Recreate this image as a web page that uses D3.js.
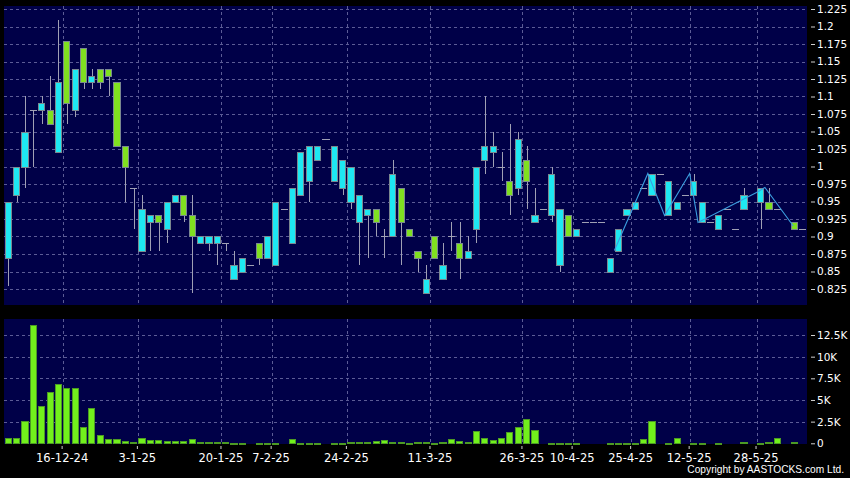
<!DOCTYPE html>
<html><head><meta charset="utf-8">
<script src="https://cdn.jsdelivr.net/npm/d3@7"></script>
<style>html,body{margin:0;padding:0;background:#000;} svg{display:block}</style>
</head><body>
<svg id="c" width="850" height="478"></svg>
<script>
// ---- data ----
const tickIndex  = [7, 16, 26, 32, 41, 51, 62, 68, 75, 82, 90];
const tickLabels = ["16-12-24","3-1-25","20-1-25","7-2-25","24-2-25","11-3-25","26-3-25","10-4-25","25-4-25","12-5-25","28-5-25"];

const open  = [0.87,0.96,1.00,1.08,1.08,1.08,1.02,1.18,1.08,1.17,1.12,1.14,1.14,1.12,1.03,0.97,
               0.88,0.92,0.93,0.91,0.95,0.96,0.93,0.89,0.89,0.89,0.89,0.84,0.85,0.86,0.89,0.87,
               0.86,0.94,0.89,0.96,0.98,1.01,1.04,0.98,0.97,0.95,0.92,0.93,0.94,0.90,0.90,0.97,
               0.91,0.88,0.82,0.90,0.84,0.90,0.89,0.87,0.91,1.01,1.02,1.00,0.98,0.97,1.01,0.92,
               0.94,0.93,0.86,0.93,0.90,0.92,0.92,0.92,0.85,0.88,0.93,0.94,0.97,0.96,0.99,0.93,
               0.94,0.96,0.96,0.92,0.92,0.91,0.94,0.91,0.94,null,0.95,0.95,0.94,null,0.92,0.91];
const high  = [0.95,1.00,1.10,1.08,1.10,1.13,1.21,1.18,1.14,1.17,1.14,1.14,1.14,1.12,1.03,0.97,
               0.96,0.93,0.93,0.95,0.96,0.96,0.96,0.90,0.90,0.90,0.89,0.88,0.87,0.86,0.89,0.90,
               0.95,0.94,0.97,1.02,1.03,1.03,1.04,1.03,1.01,1.00,0.96,0.94,0.94,0.91,1.01,0.97,
               0.91,0.88,0.86,0.90,0.89,0.92,0.92,0.90,1.00,1.10,1.05,1.02,1.06,1.05,1.03,0.97,
               0.94,1.00,0.94,0.93,0.91,0.92,0.92,0.92,0.87,0.91,0.94,0.95,0.97,0.99,0.99,0.98,
               0.95,0.96,0.99,0.95,0.92,0.93,0.94,0.91,0.97,null,0.97,0.97,0.94,null,0.92,0.91];
const low   = [0.83,0.95,0.97,1.00,1.06,1.06,1.02,1.06,1.07,1.11,1.11,1.11,1.10,1.03,0.95,0.91,
               0.88,0.88,0.88,0.89,0.95,0.92,0.82,0.89,0.88,0.86,0.88,0.84,0.85,0.86,0.86,0.87,
               0.86,0.94,0.89,0.96,0.95,1.01,1.04,0.98,0.96,0.94,0.86,0.87,0.90,0.87,0.90,0.86,
               0.90,0.85,0.82,0.87,0.84,0.88,0.84,0.87,0.89,0.99,1.00,0.98,0.93,0.96,0.94,0.92,
               0.94,0.92,0.85,0.90,0.90,0.92,0.92,0.92,0.85,0.88,0.93,0.94,0.97,0.96,0.99,0.93,
               0.94,0.96,0.96,0.92,0.92,0.91,0.94,0.91,0.94,null,0.91,0.94,0.94,null,0.91,0.91];
const close = [0.95,1.00,1.05,1.08,1.09,1.06,1.12,1.09,1.14,1.12,1.13,1.12,1.13,1.03,1.00,0.97,
               0.94,0.93,0.92,0.95,0.96,0.93,0.90,0.90,0.90,0.90,0.89,0.86,0.87,0.86,0.87,0.90,
               0.95,0.94,0.97,1.02,1.03,1.03,1.04,1.03,1.01,1.00,0.96,0.94,0.92,0.90,0.99,0.92,
               0.90,0.87,0.84,0.87,0.86,0.90,0.87,0.88,1.00,1.03,1.03,1.00,0.96,1.04,0.98,0.93,
               0.94,0.99,0.94,0.90,0.91,0.92,0.92,0.92,0.87,0.91,0.94,0.95,0.97,0.99,0.99,0.98,
               0.95,0.96,0.98,0.95,0.92,0.93,0.94,0.91,0.96,null,0.97,0.94,0.94,null,0.91,0.91];
const volume = [650,580,2580,13600,4300,5900,6850,6400,6400,1850,4050,920,460,540,310,120,
                580,390,350,270,270,270,460,150,150,150,150,40,40,0,40,40,
                40,0,460,40,40,40,0,40,80,120,120,120,230,420,100,190,
                40,115,115,77,154,462,231,115,1420,580,385,615,1270,1850,2800,1540,
                0,40,40,20,40,0,0,0,20,20,20,20,540,2620,0,20,
                580,0,20,20,0,20,0,0,115,0,40,115,615,0,115,0];

const priceTicks = [1.225,1.2,1.175,1.15,1.125,1.1,1.075,1.05,1.025,1,0.975,0.95,0.925,0.9,0.875,0.85,0.825];
const priceTickLabels = ["1.225","1.2","1.175","1.15","1.125","1.1","1.075","1.05","1.025","1","0.975","0.95","0.925","0.9","0.875","0.85","0.825"];
const volTicks = [0,2500,5000,7500,10000,12500];
const volTickLabels = ["0","2.5K","5K","7.5K","10K","12.5K"];

const zigzagPos = [73, 77, 79, 82, 83, 90, 91, 94.4];
const zigzagVal = [0.88, 0.99, 0.93, 0.99, 0.92, 0.963, 0.97, 0.915];

// ---- styles ----
const NAVY = "#000048", GRID = "#5c5c96", CYAN = "#1ee8f2", GREEN = "#80e020",
      VGREEN = "#72f01c", BORDER = "#7a8890", WICK = "#a0a0b4";

const svg = d3.select("#c");
svg.append("rect").attr("width",850).attr("height",478).attr("fill","#000");

const x  = d3.scaleLinear().domain([0, 96]).range([4.1, 806.7]);
const yP = d3.scaleLinear().domain([0.825, 1.225]).range([289, 9]);
const yV = d3.scaleLinear().domain([0, 12500]).range([443.3, 335]);

// panels
svg.append("rect").attr("x",4).attr("y",6).attr("width",803).attr("height",299).attr("fill",NAVY);
svg.append("rect").attr("x",4).attr("y",319).attr("width",803).attr("height",125).attr("fill",NAVY);

const g = svg.append("g").attr("shape-rendering","crispEdges");
// grids
const grid = g.append("g").attr("stroke",GRID).attr("stroke-dasharray","3,3").attr("stroke-width",1);
priceTicks.forEach(v => grid.append("line").attr("x1",4).attr("x2",807)
  .attr("y1",Math.round(yP(v))+0.5).attr("y2",Math.round(yP(v))+0.5));
volTicks.slice(1).forEach(v => grid.append("line").attr("x1",4).attr("x2",807)
  .attr("y1",Math.round(yV(v))+0.5).attr("y2",Math.round(yV(v))+0.5));
tickIndex.forEach(i => {
  const px = Math.round(x(i)) + 0.5;
  grid.append("line").attr("x1",px).attr("x2",px).attr("y1",6).attr("y2",305);
  grid.append("line").attr("x1",px).attr("x2",px).attr("y1",319).attr("y2",444);
});

// candles
const cg = g.append("g");
open.forEach((o, i) => {
  if (o == null) return;
  const h = high[i], l = low[i], c = close[i];
  const cx = Math.round(x(i + 0.5)) + 0.5;
  const left = Math.round(x(i) + 0.6), right = Math.round(x(i + 1) - 0.6);
  if (h > l) cg.append("line").attr("x1",cx).attr("x2",cx)
      .attr("y1",Math.round(yP(h))).attr("y2",Math.round(yP(l))).attr("stroke",WICK);
  if (o === c) {
    const yy = Math.round(yP(o)) + 0.5;
    cg.append("line").attr("x1",left).attr("x2",right).attr("y1",yy).attr("y2",yy).attr("stroke",WICK);
  } else {
    const top = Math.round(yP(Math.max(o,c))), bot = Math.round(yP(Math.min(o,c)));
    cg.append("rect").attr("x",left+0.5).attr("y",top+0.5)
      .attr("width",right-left-1).attr("height",bot-top)
      .attr("fill", c > o ? CYAN : GREEN).attr("stroke",BORDER);
  }
});

// zigzag line
svg.append("path")
  .attr("d", d3.line().x((d,k)=>x(d)).y((d,k)=>yP(zigzagVal[k]))(zigzagPos))
  .attr("fill","none").attr("stroke","#3b9ee0").attr("stroke-width",1.1);

// volume bars
const vg = g.append("g");
volume.forEach((v, i) => {
  if (!v) return;
  const left = Math.round(x(i) + 0.6), right = Math.round(x(i + 1) - 0.6);
  const top = Math.round(yV(v)), bot = Math.round(yV(0));
  vg.append("rect").attr("x",left+0.5).attr("y",top+0.5)
    .attr("width",right-left-1).attr("height",Math.max(bot-top,0.5))
    .attr("fill",VGREEN).attr("stroke","#4c9a24");
});

// axes
const font = "DejaVu Sans, Verdana, sans-serif";
const ax1 = svg.append("g").attr("transform","translate(811,0)")
  .call(d3.axisRight(yP).tickValues(priceTicks).tickSize(4).tickPadding(2)
        .tickFormat((d,k)=>priceTickLabels[k]));
const ax2 = svg.append("g").attr("transform","translate(811,0)")
  .call(d3.axisRight(yV).tickValues(volTicks).tickSize(4).tickPadding(2)
        .tickFormat((d,k)=>volTickLabels[k]));
const ax3 = svg.append("g").attr("transform","translate(0,446)")
  .call(d3.axisBottom(d3.scaleLinear().domain([0,96]).range([3.1,805.7]))
        .tickValues(tickIndex).tickSize(3).tickPadding(4.5)
        .tickFormat((d,k)=>tickLabels[k]));
[ax1,ax2,ax3].forEach(a => {
  a.select(".domain").remove();
  a.selectAll("line").attr("stroke","#d0d0d0");
  a.selectAll("text").attr("fill","#fff").attr("font-family",font);
});
ax1.selectAll("text").attr("font-size","10.5px");
ax2.selectAll("text").attr("font-size","10.5px");
ax3.selectAll("text").attr("font-size","11.5px");

svg.append("text").attr("x",844).attr("y",473).attr("text-anchor","end")
  .attr("fill","#fff").attr("font-family","Liberation Sans, Arial, sans-serif").attr("font-size","10.2px")
  .text("Copyright by AASTOCKS.com Ltd.");
</script>
</body></html>
